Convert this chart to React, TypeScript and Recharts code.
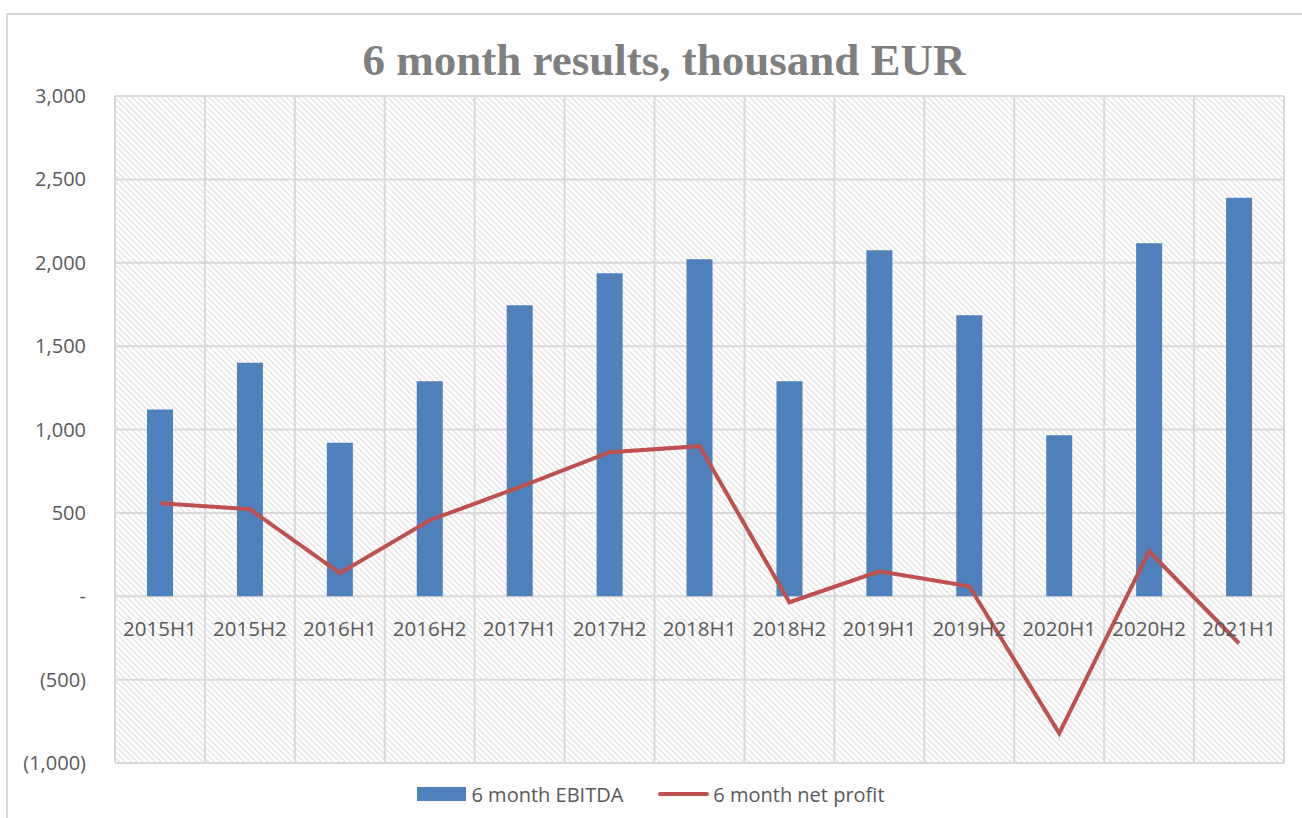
import React from 'react';
import {
  ComposedChart, Bar, Line, XAxis, YAxis, CartesianGrid, LabelList
} from 'recharts';

const periods = [
  '2015H1', '2015H2', '2016H1', '2016H2', '2017H1', '2017H2', '2018H1',
  '2018H2', '2019H1', '2019H2', '2020H1', '2020H2', '2021H1',
];
const ebitda = [1120, 1400, 920, 1290, 1745, 1937, 2021, 1290, 2075, 1685, 965, 2117, 2390];
const netProfit = [558, 522, 138, 456, 654, 864, 900, -36, 150, 60, -822, 270, -282];
const yTicks = [-1000, -500, 0, 500, 1000, 1500, 2000, 2500, 3000];

const data = periods.map((period, i) => ({
  period,
  ebitda: ebitda[i],
  profit: netProfit[i],
  zero: 0,
}));

const W = 1302;
const H = 818;
const BLUE = '#4f81bd';
const RED = '#c0504d';
const TEXT = '#595959';
const FONT = '"Open Sans", "Liberation Sans", sans-serif';

const fmtY = (v: number) => {
  if (v === 0) return '-';
  const s = Math.abs(v).toLocaleString('en-US');
  return v < 0 ? `(${s})` : s;
};

// category names sit just under the zero line, like Excel does it
const PeriodLabel = (props: any) => {
  const { x, y, value } = props;
  return (
    <text x={x} y={y + 32} textAnchor="middle" dominantBaseline="central"
      fill={TEXT} fontSize={20.5} fontFamily={FONT}>
      {value}
    </text>
  );
};

export default function App() {
  return (
    <div style={{ position: 'absolute', left: 0, top: 0, width: W, height: H, background: '#fff', overflow: 'hidden' }}>
      <svg width={0} height={0} style={{ position: 'absolute' }}>
        <defs>
          <pattern id="hatch" width={4.2} height={4.2} patternUnits="userSpaceOnUse" patternTransform="rotate(45)">
            <rect width={4.2} height={4.2} fill="#ffffff" />
            <rect y={0} width={4.2} height={1.3} fill="#e2e2e2" />
          </pattern>
        </defs>
      </svg>
      <div style={{
        position: 'absolute', left: 6, top: 13, width: W + 20, height: H + 20,
        border: '2px solid #d9d9d9', boxSizing: 'border-box',
      }} />
      <div style={{
        position: 'absolute', left: 0, width: 1328, top: 34, textAlign: 'center',
        fontFamily: '"Liberation Serif", serif', fontWeight: 'bold', fontSize: 45,
        color: '#7f7f7f', lineHeight: '52px',
      }}>
        6 month results, thousand EUR
      </div>
      <div style={{ position: 'absolute', left: 0, top: 0 }}>
        <ComposedChart width={W} height={H} data={data}
          margin={{ top: 96, right: 18, bottom: 55, left: 0 }} barCategoryGap={0}>
          <CartesianGrid stroke="#d9d9d9" strokeWidth={2} fill="url(#hatch)" fillOpacity={1}
            verticalCoordinatesGenerator={({ offset }: any) =>
              Array.from({ length: periods.length + 1 }, (_, i) => offset.left + (i * offset.width) / periods.length)
            } />
          <XAxis dataKey="period" hide />
          <YAxis domain={[-1000, 3000]} ticks={yTicks} width={115} axisLine={false}
            tickLine={false} tickSize={0} tickMargin={29} tickFormatter={fmtY}
            tick={{ fill: TEXT, fontSize: 20, fontFamily: FONT }} interval={0} />
          <Bar dataKey="ebitda" fill={BLUE} barSize={26} isAnimationActive={false} />
          <Line dataKey="zero" stroke="none" dot={false} activeDot={false} isAnimationActive={false}>
            <LabelList dataKey="period" content={<PeriodLabel />} />
          </Line>
          <Line dataKey="profit" stroke={RED} strokeWidth={4} dot={false} activeDot={false}
            type="linear" isAnimationActive={false} />
        </ComposedChart>
      </div>
      <div style={{
        position: 'absolute', top: 780, left: 0, width: W, display: 'flex',
        justifyContent: 'center', alignItems: 'center', fontFamily: FONT, fontSize: 20,
        color: TEXT, height: 28,
      }}>
        <div style={{ display: 'flex', alignItems: 'center' }}>
          <span style={{ display: 'inline-block', width: 49, height: 14, background: BLUE, marginRight: 5 }} />
          <span>6 month EBITDA</span>
        </div>
        <div style={{ display: 'flex', alignItems: 'center', marginLeft: 35 }}>
          <span style={{ display: 'inline-block', width: 51, height: 4, borderRadius: 2, background: RED, marginRight: 4 }} />
          <span>6 month net profit</span>
        </div>
      </div>
    </div>
  );
}
